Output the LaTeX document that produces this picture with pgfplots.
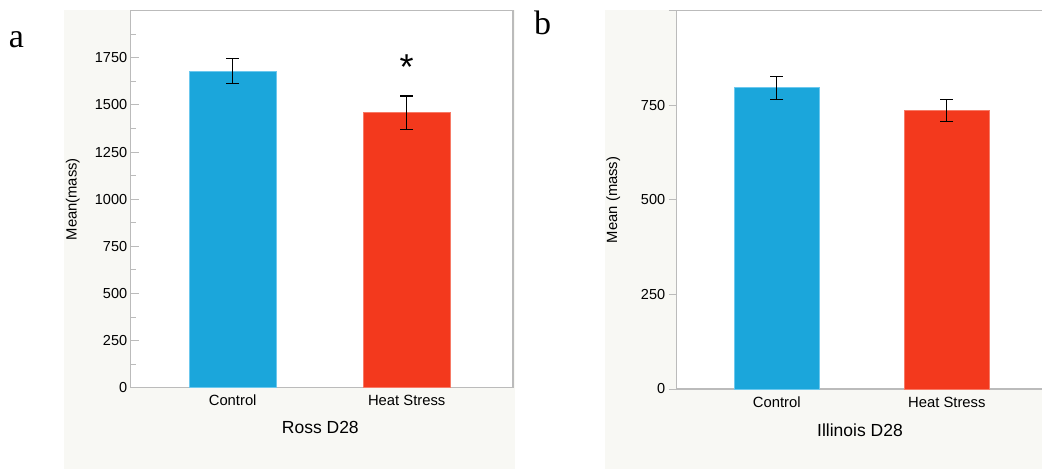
\documentclass[border=0pt]{standalone}
\usepackage{fontspec}
\setmainfont{Liberation Sans}
\newfontfamily\seriffont{Liberation Serif}
\usepackage{pgfplots}
\pgfplotsset{compat=1.18}
\definecolor{bgc}{HTML}{F8F8F4}
\definecolor{barblue}{HTML}{1BA6DB}
\definecolor{barblueedge}{HTML}{6CC8EE}
\definecolor{barred}{HTML}{F3391D}
\definecolor{barrededge}{HTML}{F77A66}
\definecolor{axgray}{HTML}{BBBBBB}
\pgfplotsset{
  mystyle/.style={
    scale only axis, anchor=south west,
    /pgf/number format/assume math mode=true,
    /pgf/number format/1000 sep={},
    scaled y ticks=false,
    axis line style={axgray, line width=1.3pt},
    tick style={axgray, line width=1pt},
    xtick style={draw=none},
    major tick length=8pt, minor tick length=5pt,
    ytick pos=left, xtick pos=bottom,
    xtick={0,1}, xticklabels={Control,Heat Stress},
    yticklabel style={font=\fontsize{14.5}{16}\selectfont, text=black},
    xticklabel style={font=\fontsize{14.8}{16}\selectfont, anchor=base, text=black},
    every axis y label/.style={rotate=90, anchor=center, font=\fontsize{14.8}{16}\selectfont},
    every axis x label/.style={anchor=center, font=\fontsize{17.5}{19}\selectfont},
    axis background/.style={fill=white},
  },
  mybar/.style={ybar, bar width=0.5, bar shift=0pt, line width=0.8pt,
    error bars/y dir=both, error bars/y explicit,
    error bars/error bar style={black, line width=1.2pt},
    error bars/error mark options={rotate=90, black, mark size=6.5pt, line width=1.2pt}},
}
\begin{document}
\begin{tikzpicture}[x=1pt,y=1pt]
\fill[bgc] (64,0) rectangle (515,459);
\fill[bgc] (605,0) rectangle (1042,459);
\node[font=\seriffont\fontsize{34}{34}\selectfont, anchor=base west, inner sep=0] at (8.7,421.7) {a};
\node[font=\seriffont\fontsize{34}{34}\selectfont, anchor=base west, inner sep=0] at (534,434.7) {b};

\begin{axis}[mystyle,
  at={(130.7pt,81.3pt)}, width=382.3pt, height=377pt,
  xmin=-0.586, xmax=1.611, ymin=0, ymax=2000,
  ytick={0,250,...,1750}, minor ytick={125,375,...,1875},
  tick align=inside,
  xticklabel style={yshift=-17.6pt},
  ylabel={\fontsize{14.8}{16}\selectfont Mean(mass)}, ylabel style={at={(axis description cs:-0.1517,0.5)}},
  xlabel={Ross D28}, xlabel style={at={(axis description cs:0.496,-0.106)}},
]
\addplot[fill=barblue, draw=barblueedge, mybar] coordinates {(0,1680) +- (0,65)};
\addplot[fill=barred, draw=barrededge, mybar] coordinates {(1,1458) +- (0,90)};
\node[font=\fontsize{36}{36}\selectfont, anchor=base] at (axis cs:1,1636) {*};
\end{axis}

\begin{axis}[mystyle,
  at={(676.7pt,80pt)}, width=373.8pt, height=378.3pt,
  xmin=-0.589, xmax=1.61, ymin=0, ymax=1000,
  ytick={0,250,500,750,1000}, yticklabels={0,250,500,750,{}},
  tick align=outside,
  xticklabel style={yshift=-10pt},
  ylabel={\fontsize{14.8}{16}\selectfont Mean (mass)}, ylabel style={at={(axis description cs:-0.1696,0.5)}},
  xlabel={Illinois D28}, xlabel style={at={(axis description cs:0.4904,-0.1084)}},
]
\addplot[fill=barblue, draw=barblueedge, mybar] coordinates {(0,796) +- (0,31)};
\addplot[fill=barred, draw=barrededge, mybar] coordinates {(1,737) +- (0,29)};
\end{axis}
\pgfresetboundingbox
\useasboundingbox (0,0) rectangle (1042,469);
\end{tikzpicture}
\end{document}
